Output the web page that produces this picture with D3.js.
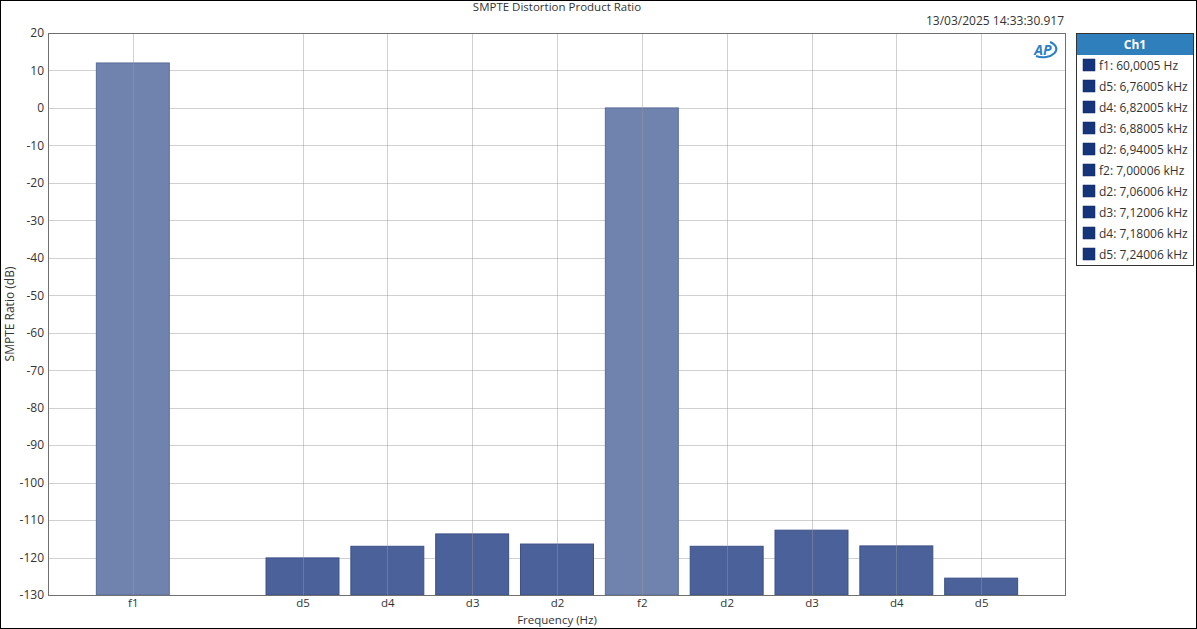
<!DOCTYPE html>
<html><head><meta charset="utf-8">
<script src="https://cdn.jsdelivr.net/npm/d3@7"></script>
<style>
html,body{margin:0;padding:0;background:#fff;}
svg{display:block;font-family:"Open Sans","Noto Sans",sans-serif;}
</style></head>
<body>
<svg id="c" width="1197" height="629"></svg>
<script>
const categories = ["f1","d5","d4","d3","d2","f2","d2","d3","d4","d5"];
const slots = [1,3,4,5,6,7,8,9,10,11];
const values = [12.0,-120.1,-117.0,-113.7,-116.4,0.0,-117.0,-112.7,-116.9,-125.5];
const kinds = ["f","d","d","d","d","f","d","d","d","d"];
const legendLabels = ["f1: 60,0005 Hz","d5: 6,76005 kHz","d4: 6,82005 kHz","d3: 6,88005 kHz","d2: 6,94005 kHz","f2: 7,00006 kHz","d2: 7,06006 kHz","d3: 7,12006 kHz","d4: 7,18006 kHz","d5: 7,24006 kHz"];
const yTicks = [20,10,0,-10,-20,-30,-40,-50,-60,-70,-80,-90,-100,-110,-120,-130];

const svg = d3.select("#c");
const W = 1197, H = 629;
const m = {l:48, t:33, r:1066, b:595};

svg.append("rect").attr("x",0.5).attr("y",0.5).attr("width",W-1).attr("height",H-1)
  .attr("fill","#fff").attr("stroke","#000").attr("stroke-width",1);

const x = d3.scaleLinear().domain([0,12]).range([m.l,m.r]);
const y = d3.scaleLinear().domain([-130,20]).range([m.b,m.t]);
const slotW = x(1)-x(0);
const barW = slotW*0.86;

// grid
const g = svg.append("g");
g.selectAll("line.h").data(yTicks).join("line")
  .attr("x1",m.l).attr("x2",m.r).attr("y1",d=>Math.round(y(d))+0.5).attr("y2",d=>Math.round(y(d))+0.5)
  .attr("stroke","#d0d0d0").attr("stroke-width",1);

// bars
svg.append("g").selectAll("rect").data(values).join("rect")
  .attr("x",(d,i)=>x(slots[i])-barW/2)
  .attr("y",d=>y(d))
  .attr("width",barW)
  .attr("height",d=>y(-130)-y(d))
  .attr("fill",(d,i)=>kinds[i]==="f"?"#7083ae":"#4a6199")
  .attr("stroke",(d,i)=>kinds[i]==="f"?"#5a6c99":"#3d5085")
  .attr("stroke-width",1);

// vertical grid lines (visible through bars)
svg.append("g").selectAll("line").data(slots).join("line")
  .attr("x1",d=>Math.round(x(d))+0.5).attr("x2",d=>Math.round(x(d))+0.5)
  .attr("y1",m.t).attr("y2",m.b)
  .attr("stroke","#999").attr("stroke-opacity",0.45).attr("stroke-width",1);

// frame
svg.append("rect").attr("x",m.l+0.5).attr("y",m.t+0.5).attr("width",m.r-m.l-1).attr("height",m.b-m.t)
  .attr("fill","none").attr("stroke","#707070").attr("stroke-width",1);

// y axis
const ya = svg.append("g").attr("transform",`translate(${m.l},0)`)
  .call(d3.axisLeft(y).tickValues(yTicks).tickSize(0).tickPadding(4).tickFormat(d=>String(d)));
ya.select(".domain").remove();
ya.selectAll("text").attr("font-size",12).attr("fill","#333").style("font-family","'Open Sans','Noto Sans',sans-serif");

// x axis
const xa = svg.append("g").attr("transform",`translate(0,${m.b})`)
  .call(d3.axisBottom(x).tickValues(slots).tickSize(0).tickPadding(4).tickFormat((d,i)=>categories[i]));
xa.select(".domain").remove();
xa.selectAll("text").attr("font-size",11.5).attr("fill","#333").style("font-family","'Open Sans','Noto Sans',sans-serif");

// labels
svg.append("text").attr("x",557).attr("y",624).attr("text-anchor","middle")
  .attr("font-size",11.5).attr("fill","#333").text("Frequency (Hz)");
svg.append("text").attr("transform","translate(14,314) rotate(-90)").attr("text-anchor","middle")
  .attr("font-size",12).attr("fill","#333").text("SMPTE Ratio (dB)");
svg.append("text").attr("x",557).attr("y",11).attr("text-anchor","middle")
  .attr("font-size",11.5).attr("fill","#333").text("SMPTE Distortion Product Ratio");
svg.append("text").attr("x",1064).attr("y",25).attr("text-anchor","end")
  .attr("font-size",12).attr("fill","#333").text("13/03/2025 14:33:30.917");

// AP logo
const logo = svg.append("g").attr("transform","translate(1044,50)");
logo.append("path").attr("d","M -8 6 A 13 8 0 1 0 6 -8").attr("fill","none").attr("stroke","#2c7fc4").attr("stroke-width",2);
logo.append("text").attr("x",-1).attr("y",5).attr("text-anchor","middle").attr("font-size",14)
  .attr("font-weight","bold").attr("font-style","italic").attr("fill","#2c7fc4").text("AP");

// legend
const lg = svg.append("g");
lg.append("rect").attr("x",1076.5).attr("y",33.5).attr("width",117).attr("height",232)
  .attr("fill","#fff").attr("stroke","#333").attr("stroke-width",1);
lg.append("rect").attr("x",1077).attr("y",34).attr("width",116).attr("height",21).attr("fill","#2f7fbc");
lg.append("text").attr("x",1135).attr("y",49).attr("text-anchor","middle").attr("font-size",12)
  .attr("font-weight","bold").attr("fill","#fff").text("Ch1");
const items = lg.selectAll("g.it").data(legendLabels).join("g").attr("class","it")
  .attr("transform",(d,i)=>`translate(1083,${59+i*21})`);
items.append("rect").attr("width",12).attr("height",12).attr("fill","#15347a").attr("stroke","#0e2660").attr("stroke-width",0.5);
items.append("text").attr("x",16).attr("y",10.5).attr("font-size",12).attr("fill","#333").text(d=>d);
</script>
</body></html>
